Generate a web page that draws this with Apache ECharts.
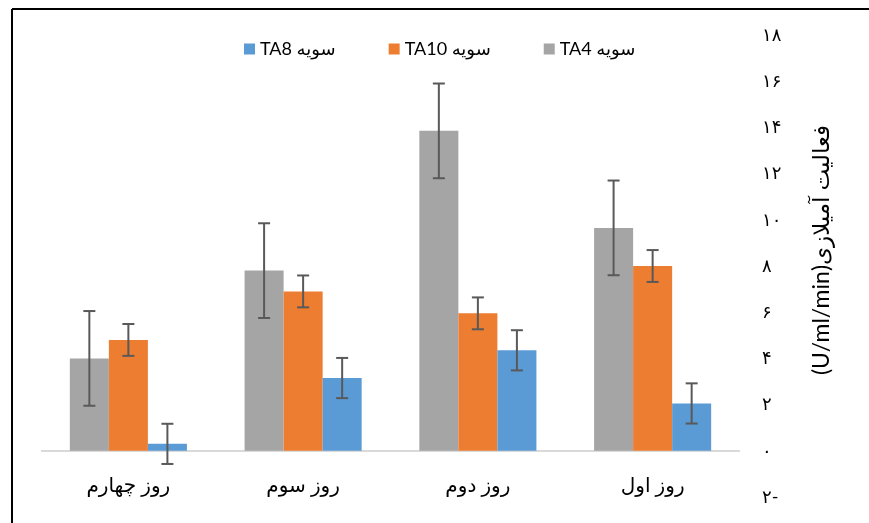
<!DOCTYPE html>
<html>
<head>
<meta charset="utf-8">
<script src="https://cdn.jsdelivr.net/npm/echarts@6/dist/echarts.min.js"></script>
<style>
html,body{margin:0;padding:0;background:#fff;}
#chart{width:869px;height:523px;direction:rtl;}
</style>
</head>
<body>
<div id="chart" dir="rtl"></div>
<script>
// Data
const categories = ['روز اول', 'روز دوم', 'روز سوم', 'روز چهارم'];
const seriesNames = ['سویه TA4', 'سویه TA10', 'سویه TA8'];
const ta4 = [9.65, 13.85, 7.8, 4.0];
const ta10 = [8.0, 5.95, 6.9, 4.8];
const ta8 = [2.05, 4.35, 3.15, 0.3];
const ta4Err = [2.05, 2.05, 2.05, 2.05];
const ta10Err = [0.69, 0.69, 0.69, 0.69];
const ta8Err = [0.87, 0.87, 0.87, 0.87];
const yMin = -2, yMax = 18, yStep = 2;
const yTitle = 'فعالیت آمیلازی(U/ml/min)';

const colors = ['#A5A5A5', '#ED7D31', '#5B9BD5'];
const CAT_GAP = 0.33;

function toFa(v) {
  const d = '۰۱۲۳۴۵۶۷۸۹';
  const s = String(Math.abs(v)).replace(/[0-9]/g, c => d[+c]);
  return v < 0 ? '-' + s : s;
}

function errRender(slot) {
  return function (params, api) {
    const ci = api.value(0), v = api.value(1), e = api.value(2);
    const band = api.size([1, 0])[0];
    const bw = band * (1 - CAT_GAP) / 3;
    const c = api.coord([ci, v]);
    const cx = c[0] + (slot - 1) * bw;
    const yt = api.coord([ci, v + e])[1];
    const yb = api.coord([ci, v - e])[1];
    const hw = 6;
    const st = { stroke: '#595959', lineWidth: 2 };
    return {
      type: 'group',
      children: [
        { type: 'line', shape: { x1: cx, y1: yt, x2: cx, y2: yb }, style: st },
        { type: 'line', shape: { x1: cx - hw, y1: yt, x2: cx + hw, y2: yt }, style: st },
        { type: 'line', shape: { x1: cx - hw, y1: yb, x2: cx + hw, y2: yb }, style: st }
      ]
    };
  };
}

const vals = [ta4, ta10, ta8];
const errs = [ta4Err, ta10Err, ta8Err];
const font = "Lato, 'DejaVu Sans', sans-serif";

const series = [];
vals.forEach((arr, i) => {
  const s = {
    name: seriesNames[i], type: 'bar', data: arr,
    barGap: '0%', barCategoryGap: (CAT_GAP * 100) + '%',
    itemStyle: { color: colors[i] }, silent: true
  };
  if (i === 0) {
    s.markLine = {
      silent: true, symbol: 'none', label: { show: false },
      lineStyle: { color: '#D9D9D9', width: 2, type: 'solid' },
      data: [{ yAxis: 0 }], z: 1
    };
  }
  series.push(s);
});
vals.forEach((arr, i) => {
  series.push({
    type: 'custom', name: seriesNames[i] + '-err', z: 5, silent: true,
    renderItem: errRender(i),
    encode: { x: 0, y: 1 },
    data: arr.map((v, k) => [k, v, errs[i][k]])
  });
});

const chart = echarts.init(document.getElementById('chart'), null, { renderer: 'canvas' });
chart.setOption({
  animation: false,
  backgroundColor: '#fff',
  grid: { left: 41, right: 129, top: 35, bottom: 26, containLabel: false, outerBoundsMode: 'none' },
  legend: {
    data: [seriesNames[2], seriesNames[1], seriesNames[0]],
    left: 239, top: 35,
    itemWidth: 11, itemHeight: 11, itemGap: 53, icon: 'rect',
    textStyle: { fontSize: 18, color: '#000', fontFamily: font }
  },
  xAxis: {
    type: 'category', data: categories, inverse: true,
    axisLine: { show: false, onZero: false },
    axisTick: { show: false },
    axisLabel: { show: true, margin: -21, fontSize: 20, color: '#000', fontFamily: font, interval: 0 }
  },
  yAxis: {
    type: 'value', position: 'right', min: yMin, max: yMax, interval: yStep,
    axisLine: { show: false }, axisTick: { show: false }, splitLine: { show: false },
    axisLabel: { margin: 22, fontSize: 18, color: '#000', fontFamily: font, formatter: toFa }
  },
  graphic: [
    { type: 'line', shape: { x1: 12, y1: 9, x2: 869, y2: 9 }, style: { stroke: '#000', lineWidth: 2 } },
    { type: 'line', shape: { x1: 12, y1: 9, x2: 12, y2: 523 }, style: { stroke: '#000', lineWidth: 2 } },
    { type: 'text', x: 822, y: 250, rotation: Math.PI / 2,
      style: { text: yTitle, fontSize: 23, fill: '#000', fontFamily: font, align: 'center', verticalAlign: 'middle' } }
  ],
  series: series
});
</script>
</body>
</html>
